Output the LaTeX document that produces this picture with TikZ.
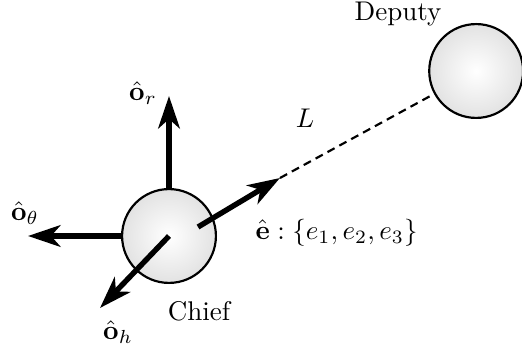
\documentclass[tikz,border=0pt]{standalone}
\usetikzlibrary{arrows.meta}

\pgfdeclareradialshading{sphere}{\pgfpoint{0bp}{0bp}}{%
    color(0bp)=(white); color(50bp)=(gray!45); color(72bp)=(gray!45)}

\tikzset{
    body/.style={circle, draw, line width=0.8pt, minimum size=1.22cm,
        shading=sphere},
    axis/.style={line width=2pt, -{Stealth[length=12pt, width=8pt, inset=3.5pt]}},
}

\begin{document}
\begin{tikzpicture}
    \useasboundingbox (0, 0) rectangle (6.786, 4.602);

    % 两个航天器
    \node[body] (chief) at (2.197, 1.534) {};
    \node[body] (deputy) at (6.19, 3.679) {};
    \node (chieflabel) at (2.587, 0.559) {Chief};
    \node (deputylabel) at (5.174, 4.42) {Deputy};

    % 轴的端点
    \coordinate (ortip) at (2.197, 3.354);
    \coordinate (othtip) at (0.364, 1.534);
    \coordinate (ohtip) at (1.30, 0.598);
    \coordinate (estart) at (2.574, 1.651);
    \coordinate (etip) at (3.64, 2.288);

    % 视线方向
    \draw[line width=0.8pt, dash pattern=on 3pt off 2pt] (etip) -- (deputy);

    % 轨道坐标系
    \draw[axis] (chief.north) -- (ortip);
    \draw[axis] (chief.west) -- (othtip);
    \draw[axis] (chief.center) -- (ohtip);
    \draw[axis] (estart) -- (etip);

    \node (orlabel) at (1.859, 3.39) {$\hat{\mathbf{o}}_r$};
    \node (othlabel) at (0.325, 1.833) {$\hat{\mathbf{o}}_\theta$};
    \node (ohlabel) at (1.534, 0.286) {$\hat{\mathbf{o}}_h$};
    \node[anchor=west, inner sep=0pt] (elabel) at (3.315, 1.58) {$\hat{\mathbf{e}}:\{e_1, e_2, e_3\}$};
    \node (Llabel) at (3.965, 3.068) {$L$};
\end{tikzpicture}
\end{document}
